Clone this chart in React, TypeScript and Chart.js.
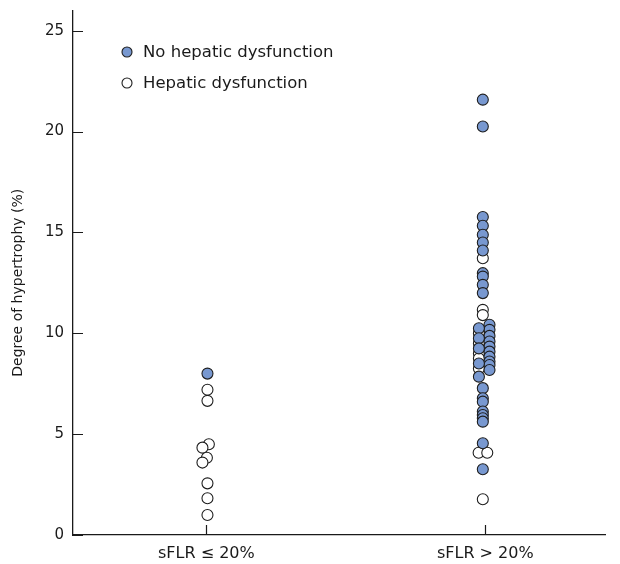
import { useEffect, useRef } from "react";
import { Chart, registerables } from "chart.js";

Chart.register(...registerables);

const categories = ["sFLR ≤ 20%", "sFLR > 20%"];
const yTickValues = [0, 5, 10, 15, 20, 25];
const legendLabels = ["No hepatic dysfunction", "Hepatic dysfunction"];
const yTitle = "Degree of hypertrophy (%)";

// Group 1 (sFLR ≤ 20%)
const noDysLowValues = [8.0];
const noDysLowJitter = [0.004];
const dysLowValues = [7.2, 6.65, 4.5, 4.33, 3.83, 3.59, 2.56, 1.82, 0.99];
const dysLowJitter = [0.004, 0.004, 0.009, -0.014, 0.002, -0.014, 0.004, 0.004, 0.004];

// Group 2 (sFLR > 20%)
const noDysHighValues = [
  21.58, 20.25, 15.76, 15.33, 14.88, 14.5, 14.1, 12.98, 12.81, 12.4, 11.99,
  7.28, 6.78, 6.61, 6.12, 5.95, 5.79, 5.62, 4.55, 3.26,
  10.42, 10.17, 9.87, 9.59, 9.34, 9.09, 8.84, 8.6, 8.43, 8.18,
  10.25, 9.75, 9.25, 8.5, 7.85,
];
const noDysHighJitter = [
  -0.009, -0.009, -0.009, -0.009, -0.009, -0.009, -0.009, -0.009, -0.009, -0.009, -0.009,
  -0.009, -0.009, -0.009, -0.009, -0.009, -0.009, -0.009, -0.009, -0.009,
  0.015, 0.015, 0.015, 0.015, 0.015, 0.015, 0.015, 0.015, 0.015, 0.015,
  -0.023, -0.023, -0.023, -0.023, -0.023,
];
const dysHighValues = [13.72, 11.16, 10.9, 1.77, 10.0, 9.5, 9.0, 8.75, 8.25, 4.08, 4.08];
const dysHighJitter = [-0.009, -0.009, -0.009, -0.009, -0.023, -0.023, -0.023, -0.023, -0.023, -0.024, 0.007];

const BLUE = "#7898d0";
const EDGE = "#1e1e1e";
const INK = "#1a1a1a";
const FONT = "'DejaVu Sans', sans-serif";

function toPoints(cat: number, values: number[], jitter: number[]) {
  return values.map((v, i) => ({ x: cat + 1 + jitter[i], y: v }));
}

const axisTicksPlugin = {
  id: "inwardTicks",
  beforeDatasetsDraw(chart: any) {
    const { ctx, chartArea, scales } = chart;
    ctx.save();
    ctx.strokeStyle = INK;
    ctx.lineWidth = 1.2;
    ctx.beginPath();
    yTickValues.forEach((v) => {
      const y = Math.round(scales.y.getPixelForValue(v)) + 0.5;
      ctx.moveTo(chartArea.left, y);
      ctx.lineTo(chartArea.left + 10, y);
    });
    categories.forEach((_, i) => {
      const x = Math.round(scales.x.getPixelForValue(i + 1)) + 0.5;
      ctx.moveTo(x, chartArea.bottom);
      ctx.lineTo(x, chartArea.bottom - 10);
    });
    ctx.stroke();
    ctx.restore();
  },
};

const textPlugin = {
  id: "legendAndTitle",
  afterDraw(chart: any) {
    const { ctx, chartArea } = chart;
    const fills = [BLUE, "#ffffff"];
    const rows = [52, 83];
    ctx.save();
    legendLabels.forEach((label, i) => {
      ctx.beginPath();
      ctx.arc(127, rows[i], 5, 0, Math.PI * 2);
      ctx.fillStyle = fills[i];
      ctx.fill();
      ctx.lineWidth = 1.1;
      ctx.strokeStyle = EDGE;
      ctx.stroke();
      ctx.fillStyle = INK;
      ctx.font = `16.5px ${FONT}`;
      ctx.textBaseline = "middle";
      ctx.textAlign = "left";
      ctx.fillText(label, 143, rows[i] + 1);
    });
    // y-axis title
    ctx.translate(18, (chartArea.top + chartArea.bottom) / 2 + 10);
    ctx.rotate(-Math.PI / 2);
    ctx.font = `14px ${FONT}`;
    ctx.fillStyle = INK;
    ctx.textAlign = "center";
    ctx.textBaseline = "middle";
    ctx.fillText(yTitle, 0, 0);
    ctx.restore();
  },
};

export default function App() {
  const canvasRef = useRef<HTMLCanvasElement | null>(null);

  useEffect(() => {
    if (!canvasRef.current) return;
    const chart = new Chart(canvasRef.current, {
      type: "scatter",
      data: {
        datasets: [
          {
            label: legendLabels[0],
            data: [
              ...toPoints(0, noDysLowValues, noDysLowJitter),
              ...toPoints(1, noDysHighValues, noDysHighJitter),
            ],
            backgroundColor: BLUE,
            borderColor: EDGE,
            borderWidth: 1.1,
            pointRadius: 5.5,
          },
          {
            label: legendLabels[1],
            data: [
              ...toPoints(0, dysLowValues, dysLowJitter),
              ...toPoints(1, dysHighValues, dysHighJitter),
            ],
            backgroundColor: "#ffffff",
            borderColor: EDGE,
            borderWidth: 1.1,
            pointRadius: 5.5,
          },
        ],
      },
      options: {
        responsive: false,
        animation: false,
        layout: { padding: { top: 10.5, right: 15, left: 0, bottom: 0 } },
        plugins: { legend: { display: false }, tooltip: { enabled: false } },
        scales: {
          x: {
            type: "linear",
            min: 0.522,
            max: 2.429,
            grid: { display: false, drawTicks: false },
            border: { display: true, color: INK, width: 1.3 },
            afterBuildTicks: (s: any) => {
              s.ticks = categories.map((_, i) => ({ value: i + 1 }));
            },
            afterFit: (s: any) => {
              s.height = 29;
              s.paddingLeft = 0;
              s.paddingRight = 0;
            },
            ticks: {
              padding: 9,
              color: INK,
              font: { family: FONT, size: 16 },
              maxRotation: 0,
              autoSkip: false,
              callback: (v: any) => categories[Math.round(Number(v)) - 1] ?? "",
            },
          },
          y: {
            type: "linear",
            min: 0,
            max: 26,
            grid: { display: false, drawTicks: false },
            border: { display: true, color: INK, width: 1.3 },
            afterBuildTicks: (s: any) => {
              s.ticks = yTickValues.map((v) => ({ value: v }));
            },
            afterFit: (s: any) => {
              s.width = 73;
              s.paddingTop = 0;
              s.paddingBottom = 0;
            },
            ticks: {
              padding: 9,
              color: INK,
              font: { family: FONT, size: 15 },
            },
          },
        },
      },
      plugins: [axisTicksPlugin, textPlugin],
    });
    return () => chart.destroy();
  }, []);

  return (
    <div style={{ position: "fixed", left: 0, top: 0, width: 620, height: 564, background: "#fff" }}>
      <canvas ref={canvasRef} width={620} height={564} style={{ width: 620, height: 564 }} />
    </div>
  );
}
